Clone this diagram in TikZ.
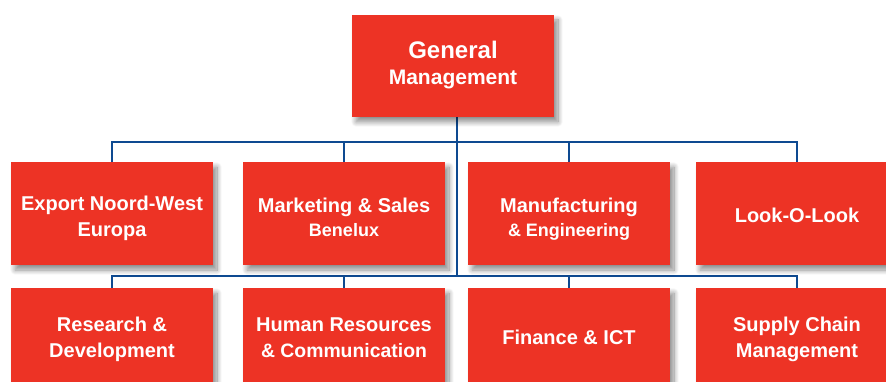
\documentclass[tikz,border=0pt]{standalone}
\usepackage{fontspec}
\setmainfont{Liberation Sans}
\usetikzlibrary{shadows.blur}
\definecolor{boxred}{RGB}{237,51,37}
\definecolor{linkblue}{RGB}{14,74,145}
\tikzset{
  unitbox/.style={fill=boxred, draw=none, text=white, align=center,
    minimum width=202pt, minimum height=103pt, inner sep=0pt, text depth=0pt,
    font=\bfseries\fontsize{20}{25.5}\selectfont,
    blur shadow={shadow xshift=4pt, shadow yshift=-5pt, shadow blur radius=5pt, shadow blur steps=12, shadow opacity=45}},
  rowone/.style={text height=46pt},
  rowtwo/.style={text depth=4pt},
  conn/.style={draw=linkblue, line width=2.8pt}
}
\newcommand{\smallline}[1]{{\fontsize{18}{24}\selectfont #1}}
\begin{document}
\begin{tikzpicture}[x=1pt,y=-1pt]
\useasboundingbox (0,0) rectangle (886,382);
\clip (0,0) rectangle (886,382);
\coordinate (j1) at (457,142);
\coordinate (j2) at (457,276);
% connectors
\node[unitbox, minimum height=102pt, opacity=0] (gm0) at (453,66) {};
\path (gm0.south -| j1) coordinate (gmfoot);
\draw[conn] (gmfoot) -- (j2);
\coordinate (n1) at (112,162);
\coordinate (n2) at (344,162);
\coordinate (n3) at (569,162);
\coordinate (n4) at (797,162);
\coordinate (m1) at (112,288);
\coordinate (m2) at (344,288);
\coordinate (m3) at (569,288);
\coordinate (m4) at (797,288);
\draw[conn] (n1) |- (j1) -| (n4);
\draw[conn] (n2) -- (n2 |- j1);
\draw[conn] (n3) -- (n3 |- j1);
\draw[conn] (m1) |- (j2) -| (m4);
\draw[conn] (m2) -- (m2 |- j2);
\draw[conn] (m3) -- (m3 |- j2);
% boxes
\node[unitbox, minimum height=102pt, text depth=6pt] (gm) at (453,66)
  {{\fontsize{24}{27}\selectfont General}\\[0pt]{\fontsize{21}{26}\selectfont Management}};
\node[unitbox, rowone] (b1) at (112,213.5) {Export Noord-West\\Europa};
\node[unitbox, rowone] (b2) at (344,213.5) {Marketing \& Sales\\[-1pt]\smallline{Benelux}};
\node[unitbox, rowone] (b3) at (569,213.5) {Manufacturing\\[-1pt]\smallline{\& Engineering}};
\node[unitbox, text height=18.6pt] (b4) at (797,213.5) {Look-O-Look};
\node[unitbox, rowtwo] (c1) at (112,339.5) {Research \&\\Development};
\node[unitbox, rowtwo] (c2) at (344,339.5) {Human Resources\\{\fontsize{19.4}{25}\selectfont \& Communication}};
\node[unitbox, rowtwo] (c3) at (569,339.5) {Finance \& ICT};
\node[unitbox, rowtwo] (c4) at (797,339.5) {Supply Chain\\Management};
\end{tikzpicture}
\end{document}
